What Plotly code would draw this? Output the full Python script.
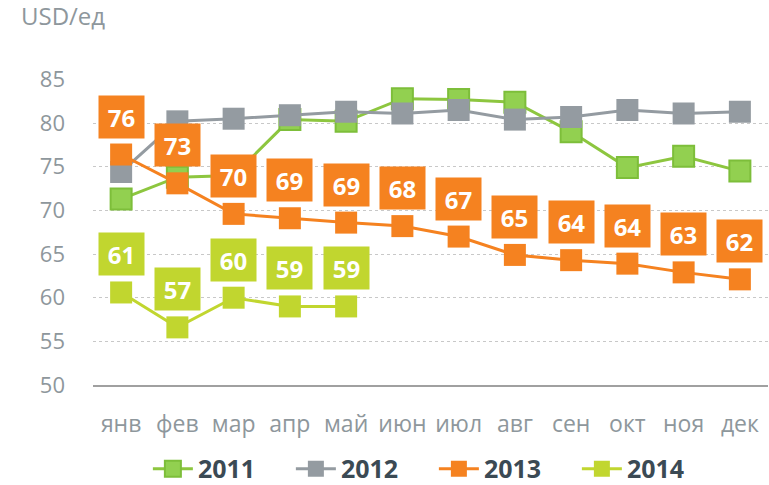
import plotly.graph_objects as go

months = ["янв", "фев", "мар", "апр", "май", "июн", "июл", "авг", "сен", "окт", "ноя", "дек"]
y2011 = [71.3, 73.8, 74.0, 80.4, 80.2, 82.8, 82.7, 82.4, 79.0, 74.9, 76.2, 74.5]
y2012 = [74.4, 80.2, 80.5, 80.9, 81.3, 81.1, 81.5, 80.4, 80.7, 81.5, 81.1, 81.3]
y2013 = [76.4, 73.1, 69.6, 69.1, 68.6, 68.2, 67.0, 64.9, 64.3, 63.9, 62.9, 62.1]
y2014 = [60.6, 56.6, 60.0, 59.0, 59.0]
labels2013 = ["76", "73", "70", "69", "69", "68", "67", "65", "64", "64", "63", "62"]
labels2014 = ["61", "57", "60", "59", "59"]
yticks = [50, 55, 60, 65, 70, 75, 80, 85]

C2011_line = "#8DC63F"
C2011_fill = "#92D050"
C2011_edge = "#7DBE3A"
C2012 = "#949BA1"
C2013 = "#F58220"
C2014 = "#C1D62F"
GRAY_TXT = "#8E979C"

fig = go.Figure()
fig.add_trace(go.Scatter(x=months, y=y2011, name="2011", mode="lines+markers",
                         line=dict(color=C2011_line, width=3),
                         marker=dict(symbol="square", size=21, color=C2011_fill,
                                     line=dict(color=C2011_edge, width=2))))
fig.add_trace(go.Scatter(x=months, y=y2012, name="2012", mode="lines+markers",
                         line=dict(color=C2012, width=3),
                         marker=dict(symbol="square", size=22, color=C2012)))
fig.add_trace(go.Scatter(x=months, y=y2013, name="2013", mode="lines+markers",
                         line=dict(color=C2013, width=3),
                         marker=dict(symbol="square", size=22, color=C2013)))
fig.add_trace(go.Scatter(x=months[:len(y2014)], y=y2014, name="2014", mode="lines+markers",
                         line=dict(color=C2014, width=3),
                         marker=dict(symbol="square", size=22, color=C2014)))

annotations = []
for m, v, t in zip(months, y2013, labels2013):
    annotations.append(dict(x=m, y=v, text="<b>%s</b>" % t, showarrow=False, yshift=38,
                            width=45, height=42, bgcolor=C2013, borderpad=0,
                            font=dict(family="Open Sans", size=24, color="white")))
for m, v, t in zip(months, y2014, labels2014):
    annotations.append(dict(x=m, y=v, text="<b>%s</b>" % t, showarrow=False, yshift=38,
                            width=45, height=42, bgcolor=C2014, borderpad=0,
                            font=dict(family="Open Sans", size=24, color="white")))
annotations.append(dict(xref="paper", yref="paper", x=-0.1096, y=1.206, xanchor="left",
                        yanchor="middle", text="USD/ед", showarrow=False,
                        font=dict(family="Open Sans", size=24, color=GRAY_TXT)))

fig.update_layout(
    width=769, height=485,
    margin=dict(l=93, r=1, t=79, b=100),
    paper_bgcolor="white", plot_bgcolor="white",
    font=dict(family="Open Sans", color=GRAY_TXT),
    showlegend=True,
    legend=dict(orientation="h", x=0.505, xanchor="center", yref="container", y=0.033,
                yanchor="middle",
                font=dict(family="Open Sans", size=25, color="#3B4A54", weight="bold"),
                itemwidth=40, tracegroupgap=0, entrywidth=88, entrywidthmode="pixels"),
    annotations=annotations,
    xaxis=dict(range=[-0.5, 11.5], showline=True, linecolor="#A0A0A0", linewidth=2,
               showgrid=False, automargin=False,
               tickfont=dict(size=23, color=GRAY_TXT), ticks="", ticklabelstandoff=17,
               fixedrange=True),
    yaxis=dict(range=[50, 85.05], tickvals=yticks, showgrid=True, gridcolor="#C8C8C8",
               griddash="dot", gridwidth=1, zeroline=False, showline=False, automargin=False,
               tickfont=dict(size=22, color=GRAY_TXT), ticklabelstandoff=27),
)

fig.write_html("out.html", config={"displayModeBar": False},
               post_script="document.body.style.margin='0';document.body.style.padding='0';")
